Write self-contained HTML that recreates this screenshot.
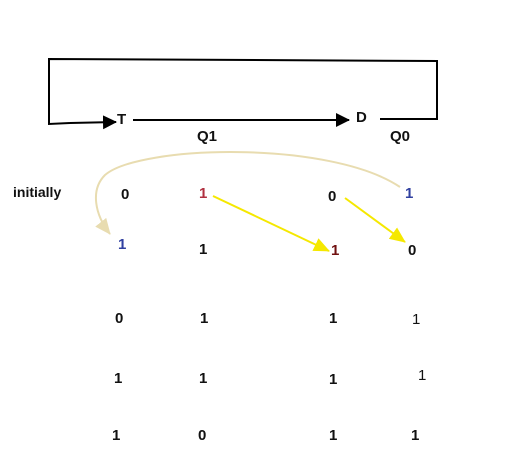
<!DOCTYPE html>
<html><head><meta charset="utf-8"><style>
body{margin:0;background:#fff;width:505px;height:470px;overflow:hidden}
svg{display:block}
text{font-family:"Liberation Sans",sans-serif;font-weight:bold;font-size:15px;fill:#111}
</style></head><body>
<svg width="505" height="470">
<defs>
<marker id="blk" markerWidth="14" markerHeight="14" refX="13" refY="7" orient="auto" markerUnits="userSpaceOnUse"><path d="M0,0 L14,7 L0,14 z" fill="#000"/></marker>
<marker id="yel" markerWidth="16" markerHeight="14" refX="15" refY="7" orient="auto" markerUnits="userSpaceOnUse"><path d="M0,0 L16,7 L0,14 z" fill="#f5e800"/></marker>
<marker id="tan" markerWidth="16" markerHeight="14" refX="15" refY="7" orient="auto" markerUnits="userSpaceOnUse"><path d="M0,0 L16,7 L0,14 z" fill="#e8dcb0"/></marker>
</defs>
<g fill="none" stroke="#000" stroke-width="2">
<polyline points="380,119 437,119 437,61 49,59 49,124 70,123"/>
<line x1="70" y1="123" x2="116" y2="122" marker-end="url(#blk)"/>
<line x1="133" y1="120" x2="349" y2="120" marker-end="url(#blk)"/>
</g>
<text x="117" y="124">T</text>
<text x="356" y="122">D</text>
<text x="197" y="141">Q1</text>
<text x="390" y="141">Q0</text>
<text x="13" y="197" style="font-size:14px">initially</text>
<path d="M400,187 C330,140 140,145 105,175 C90,190 95,215 110,234" fill="none" stroke="#e8dcb0" stroke-width="2" marker-end="url(#tan)"/>
<line x1="213" y1="196" x2="329" y2="251" stroke="#f5e800" stroke-width="2" marker-end="url(#yel)"/>
<line x1="345" y1="198" x2="405" y2="242" stroke="#f5e800" stroke-width="2" marker-end="url(#yel)"/>
<g>
<text x="121" y="199">0</text><text x="199" y="198" style="fill:#b03040">1</text><text x="328" y="201">0</text><text x="405" y="198" style="fill:#3040a0">1</text>
<text x="118" y="249" style="fill:#3040a0">1</text><text x="199" y="254">1</text><text x="331" y="255" style="fill:#701010">1</text><text x="408" y="255">0</text>
<text x="115" y="323">0</text><text x="200" y="323">1</text><text x="329" y="323">1</text><text x="412" y="324" style="font-weight:normal">1</text>
<text x="114" y="383">1</text><text x="199" y="383">1</text><text x="329" y="384">1</text><text x="418" y="380" style="font-weight:normal">1</text>
<text x="112" y="440">1</text><text x="198" y="440">0</text><text x="329" y="440">1</text><text x="411" y="440">1</text>
</g>
</svg>
</body></html>
